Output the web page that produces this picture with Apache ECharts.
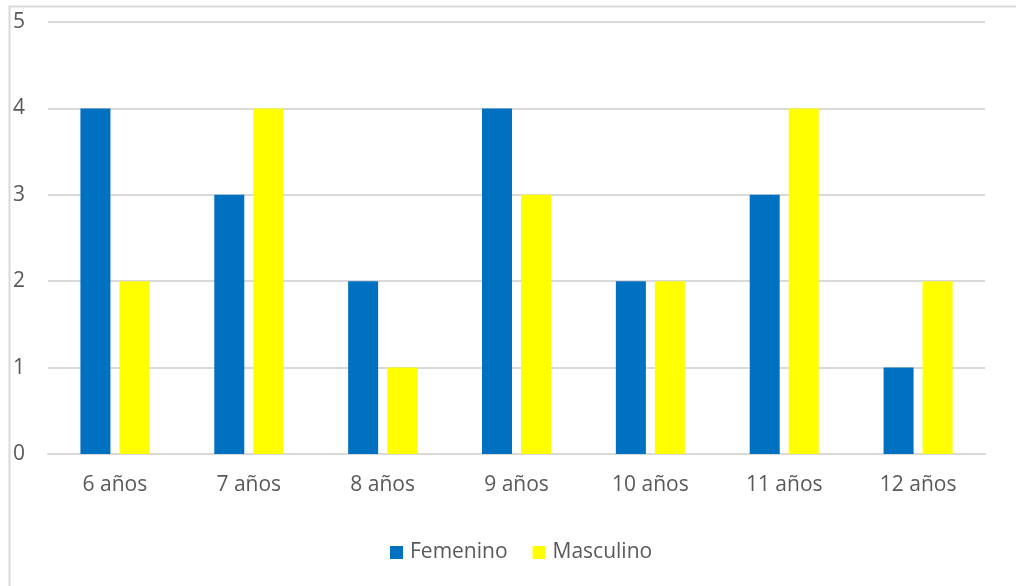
<!DOCTYPE html>
<html>
<head>
<meta charset="utf-8">
<script src="https://cdn.jsdelivr.net/npm/echarts@6/dist/echarts.min.js"></script>
<style>
  html, body { margin: 0; padding: 0; background: #fff; }
  #chart { width: 1016px; height: 586px; }
</style>
</head>
<body>
<div id="chart"></div>
<script>
// Niños por edad y sexo
const categories = ['6 años', '7 años', '8 años', '9 años', '10 años', '11 años', '12 años'];
const femenino = [4, 3, 2, 4, 2, 3, 1];
const masculino = [2, 4, 1, 3, 2, 4, 2];
const yTicks = [0, 1, 2, 3, 4, 5];

const textColor = '#595959';
const fontFamily = '"Open Sans", "Noto Sans", sans-serif';

const chart = echarts.init(document.getElementById('chart'));
chart.setOption({
  animation: false,
  backgroundColor: '#fff',
  textStyle: { fontFamily: fontFamily },
  graphic: [{
    type: 'rect',
    shape: { x: 9.5, y: 6.5, width: 1020, height: 600 },
    style: { fill: 'none', stroke: '#d9d9d9', lineWidth: 2 },
    silent: true
  }],
  grid: { left: 48, right: 31, top: 22, bottom: 132 },
  legend: {
    bottom: 18,
    left: 385,
    itemWidth: 13,
    itemHeight: 13,
    itemGap: 25,
    icon: 'rect',
    textStyle: { color: textColor, fontSize: 21, fontFamily: fontFamily, padding: [0, 0, 0, 2] },
    data: ['Femenino', 'Masculino']
  },
  xAxis: {
    type: 'category',
    data: categories,
    axisLine: { lineStyle: { color: '#d9d9d9', width: 2 } },
    axisTick: { show: false },
    axisLabel: { color: textColor, fontSize: 21, margin: 21, fontFamily: fontFamily }
  },
  yAxis: {
    type: 'value',
    min: yTicks[0],
    max: yTicks[yTicks.length - 1],
    interval: 1,
    axisLine: { show: false },
    axisTick: { show: false },
    splitLine: { lineStyle: { color: '#d9d9d9', width: 2 } },
    axisLabel: { color: textColor, fontSize: 21, align: 'left', margin: 35, fontFamily: fontFamily }
  },
  series: [
    {
      name: 'Femenino',
      type: 'bar',
      data: femenino,
      barWidth: 30,
      barGap: '30%',
      itemStyle: { color: '#0070c0' }
    },
    {
      name: 'Masculino',
      type: 'bar',
      data: masculino,
      barWidth: 30,
      barGap: '30%',
      itemStyle: { color: '#ffff00' }
    }
  ]
});
</script>
</body>
</html>
